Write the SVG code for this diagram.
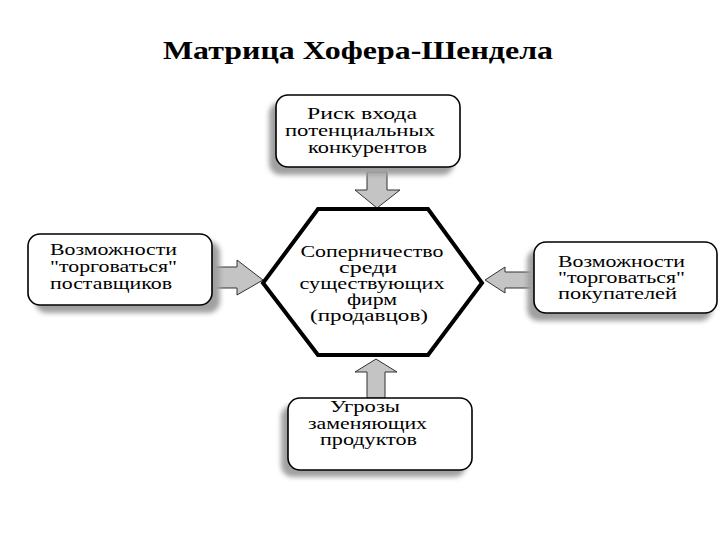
<svg xmlns="http://www.w3.org/2000/svg" width="720" height="540" viewBox="0 0 720 540">
<defs>
<filter id="blur" x="-20%" y="-20%" width="140%" height="140%"><feGaussianBlur stdDeviation="2.5"/></filter>
<style>
.box{fill:#fff;stroke:#000;stroke-width:1.6}
.shadow{fill:#a0a0a0;filter:url(#blur)}
.arrow{fill:#c4c4c4;stroke:#333;stroke-width:1}
.t{font-family:"Liberation Serif","DejaVu Serif",serif;font-size:16px;fill:#000}
.title{font-family:"Liberation Serif","DejaVu Serif",serif;font-size:25px;font-weight:bold;fill:#000}
</style>
</defs>
<rect width="720" height="540" fill="#fff"/>
<text class="title" x="358" y="59" text-anchor="middle" textLength="390" lengthAdjust="spacingAndGlyphs">Матрица Хофера-Шендела</text>

<g id="connectors">
<polygon class="arrow" points="367,172 387,172 387,190 400,190 377,208 355,190 367,190"/>
<polygon class="arrow" points="212,267 237,267 237,260 263,280 237,295 237,288 212,288"/>
<polygon class="arrow" points="535,272 505,272 505,267 485,280 505,293 505,288 535,288"/>
<polygon class="arrow" points="367,398 385,398 385,372 397,372 376,359 355,372 367,372"/>
</g>

<g id="top">
<rect class="shadow" x="269" y="102" width="185" height="73" rx="12"/>
<rect class="box" x="276" y="95" width="184" height="72" rx="12"/>
<text class="t" x="307" y="119" textLength="110" lengthAdjust="spacingAndGlyphs">Риск  входа</text>
<text class="t" x="285" y="136" textLength="150" lengthAdjust="spacingAndGlyphs">потенциальных</text>
<text class="t" x="308" y="153" textLength="119" lengthAdjust="spacingAndGlyphs">конкурентов</text>
</g>

<g id="left">
<rect class="shadow" x="35" y="241" width="185" height="72" rx="12"/>
<rect class="box" x="28" y="234" width="184" height="71" rx="12"/>
<text class="t" x="50" y="255" textLength="127" lengthAdjust="spacingAndGlyphs">Возможности</text>
<text class="t" x="50" y="272" textLength="127" lengthAdjust="spacingAndGlyphs">"торговаться"</text>
<text class="t" x="50" y="289" textLength="122" lengthAdjust="spacingAndGlyphs">поставщиков</text>
</g>

<g id="center">
<polygon points="318,209 428,209 482,283 428,355 318,355 263,283" fill="#fff" stroke="#000" stroke-width="4" stroke-linejoin="miter"/>
<text class="t" x="372" y="257" text-anchor="middle" textLength="143" lengthAdjust="spacingAndGlyphs">Соперничество</text>
<text class="t" x="368" y="273" text-anchor="middle" textLength="58" lengthAdjust="spacingAndGlyphs">среди</text>
<text class="t" x="372" y="289" text-anchor="middle" textLength="145" lengthAdjust="spacingAndGlyphs">существующих</text>
<text class="t" x="372" y="305" text-anchor="middle" textLength="50" lengthAdjust="spacingAndGlyphs">фирм</text>
<text class="t" x="369" y="321" text-anchor="middle" textLength="118" lengthAdjust="spacingAndGlyphs">(продавцов)</text>
</g>

<g id="right">
<rect class="shadow" x="527" y="249" width="185" height="72" rx="12"/>
<rect class="box" x="534" y="242" width="183" height="71" rx="12"/>
<text class="t" x="558" y="267" textLength="127" lengthAdjust="spacingAndGlyphs">Возможности</text>
<text class="t" x="558" y="283" textLength="127" lengthAdjust="spacingAndGlyphs">"торговаться"</text>
<text class="t" x="558" y="299" textLength="119" lengthAdjust="spacingAndGlyphs">покупателей</text>
</g>

<g id="bottom">
<rect class="shadow" x="281" y="405" width="185" height="72" rx="12"/>
<rect class="box" x="288" y="398" width="184" height="72" rx="12"/>
<text class="t" x="330" y="412" textLength="70" lengthAdjust="spacingAndGlyphs">Угрозы</text>
<text class="t" x="308" y="429" textLength="119" lengthAdjust="spacingAndGlyphs">заменяющих</text>
<text class="t" x="320" y="445" textLength="97" lengthAdjust="spacingAndGlyphs">продуктов</text>
</g>
</svg>
